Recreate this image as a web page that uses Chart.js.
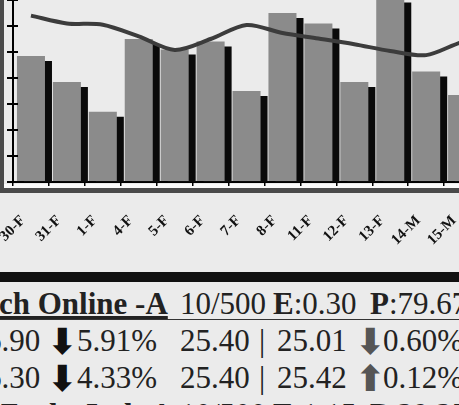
<!DOCTYPE html>
<html>
<head>
<meta charset="utf-8">
<script src="https://cdn.jsdelivr.net/npm/chart.js@4.4.1/dist/chart.umd.min.js"></script>
<style>
    html, body { margin: 0; padding: 0; width: 459px; height: 405px; overflow: hidden; background: #ebebeb; position: relative; }
    #wrap { position: absolute; left: 0; top: 0; width: 520px; height: 270px; z-index: 2; }
    .frameL { position: absolute; left: 0; top: 0; width: 4px; height: 193px; background: #4a4a4a; z-index: 1; }
    .frameB { position: absolute; left: 0; top: 188px; width: 459px; height: 5px; background: #4a4a4a; z-index: 1; }
    .strip { position: absolute; left: 4px; top: 184px; width: 455px; height: 4px; background: #fafafa; z-index: 1; }
    .band { position: absolute; left: 0; top: 272px; width: 459px; height: 10px; background: #111; }
    .rule { position: absolute; left: 0; top: 319px; width: 459px; height: 1px; background: #333; }
    .row { position: absolute; left: 0; width: 459px; height: 36px; font-family: "Liberation Serif", serif; font-size: 31px; line-height: 36px; color: #222; white-space: nowrap; }
    .row span { position: absolute; top: 0; }
    .row b { font-weight: bold; }
    .row span.arr { font-family: "DejaVu Sans", sans-serif; font-size: 36px; line-height: 36px; font-weight: bold; top: 1px; }
</style>
</head>
<body>
<div class="frameL"></div>
<div class="strip"></div>
<div class="frameB"></div>
<div id="wrap"><canvas id="chart" width="520" height="270"></canvas></div>
<div class="band"></div>

<div class="row" style="top:286px">
    <span style="left:-1px"><b><u>ch Online -A</u></b></span>
    <span style="left:180px">10/500</span>
    <span style="left:273px"><b>E</b>:0.30</span>
    <span style="left:370px"><b>P</b>:79.67</span>
</div>
<div class="rule"></div>
<div class="row" style="top:323px">
    <span style="left:-14px">6.90</span>
    <span class="arr" style="left:47px;color:#111">⬇</span>
    <span style="left:77px">5.91%</span>
    <span style="left:180px">25.40</span>
    <span style="left:259px">|</span>
    <span style="left:277px">25.01</span>
    <span class="arr" style="left:355px;color:#555">⬇</span>
    <span style="left:383px">0.60%</span>
</div>
<div class="row" style="top:360px">
    <span style="left:-14px">6.30</span>
    <span class="arr" style="left:47px;color:#111">⬇</span>
    <span style="left:77px">4.33%</span>
    <span style="left:180px">25.40</span>
    <span style="left:259px">|</span>
    <span style="left:277px">25.42</span>
    <span class="arr" style="left:355px;color:#555">⬆</span>
    <span style="left:383px">0.12%</span>
</div>
<div class="row" style="top:397px">
    <span style="left:-1px"><b>Zacks Ind -A</b></span>
    <span style="left:180px">10/500</span>
    <span style="left:273px"><b>E</b>:1.15</span>
    <span style="left:370px"><b>P</b>:29.25</span>
</div>

<script>
// Données du graphique
const labels = ['30-F', '31-F', '1-F', '4-F', '5-F', '6-F', '7-F', '8-F', '11-F', '12-F', '13-F', '14-M', '15-M', '18-M'];
const barValues = [4.85, 3.85, 2.7, 5.5, 5.1, 5.4, 3.5, 6.5, 6.1, 3.85, 7.1, 4.25, 3.35, 4.0];
const lineValues = [6.4, 6.1, 6.05, 5.6, 5.08, 5.5, 6.04, 5.73, 5.52, 5.3, 5.04, 4.88, 5.38, 5.6];

// Ombre noire à droite des barres
const barShadow = {
    id: 'barShadow',
    beforeDatasetDraw(chart, args) {
        if (args.meta.type !== 'bar') return;
        const ctx = chart.ctx;
        ctx.save();
        ctx.shadowColor = '#0a0a0a';
        ctx.shadowOffsetX = 7;
        ctx.shadowOffsetY = 5;
        ctx.shadowBlur = 0;
    },
    afterDatasetDraw(chart, args) {
        if (args.meta.type !== 'bar') return;
        chart.ctx.restore();
    }
};

// Petits traits côté intérieur de l'axe Y
const innerTicks = {
    id: 'innerTicks',
    afterDraw(chart) {
        const ctx = chart.ctx;
        const y = chart.scales.y;
        ctx.save();
        ctx.strokeStyle = '#000';
        ctx.lineWidth = 2;
        y.ticks.forEach((t, i) => {
            const py = y.getPixelForTick(i);
            ctx.beginPath();
            ctx.moveTo(y.right, py);
            ctx.lineTo(y.right + 5, py);
            ctx.stroke();
        });
        ctx.restore();
    }
};

const ctx = document.getElementById('chart').getContext('2d');
new Chart(ctx, {
    data: {
        labels: labels,
        datasets: [{
            type: 'line',
            data: lineValues,
            borderColor: '#3c3c3c',
            borderWidth: 4,
            pointRadius: 0,
            tension: 0.3,
            order: 0
        }, {
            type: 'bar',
            data: barValues,
            backgroundColor: '#8b8b8b',
            borderWidth: 0,
            barPercentage: 0.78,
            categoryPercentage: 1,
            order: 1
        }]
    },
    options: {
        responsive: false,
        animation: false,
        layout: { padding: { left: 0, right: 4, top: 0, bottom: 0 } },
        plugins: { legend: { display: false }, tooltip: { enabled: false } },
        scales: {
            x: {
                grid: { drawOnChartArea: false, tickLength: 4, color: '#000', lineWidth: 1.5 },
                border: { color: '#000', width: 2 },
                ticks: {
                    color: '#111',
                    font: { family: 'Liberation Serif', size: 15, weight: 'bold' },
                    minRotation: 45,
                    maxRotation: 45,
                    autoSkip: false,
                    padding: 26,
                    labelOffset: -8
                },
                afterFit(scale) {
                    scale.height = 88;
                    scale.paddingLeft = 0;
                    scale.paddingRight = 0;
                }
            },
            y: {
                min: 0,
                max: 7,
                ticks: { display: false, stepSize: 1 },
                grid: { drawOnChartArea: false, tickLength: 6, color: '#000', lineWidth: 2 },
                border: { color: '#000', width: 2 },
                afterFit(scale) { scale.width = 13; }
            }
        }
    },
    plugins: [barShadow, innerTicks]
});
</script>
</body>
</html>
